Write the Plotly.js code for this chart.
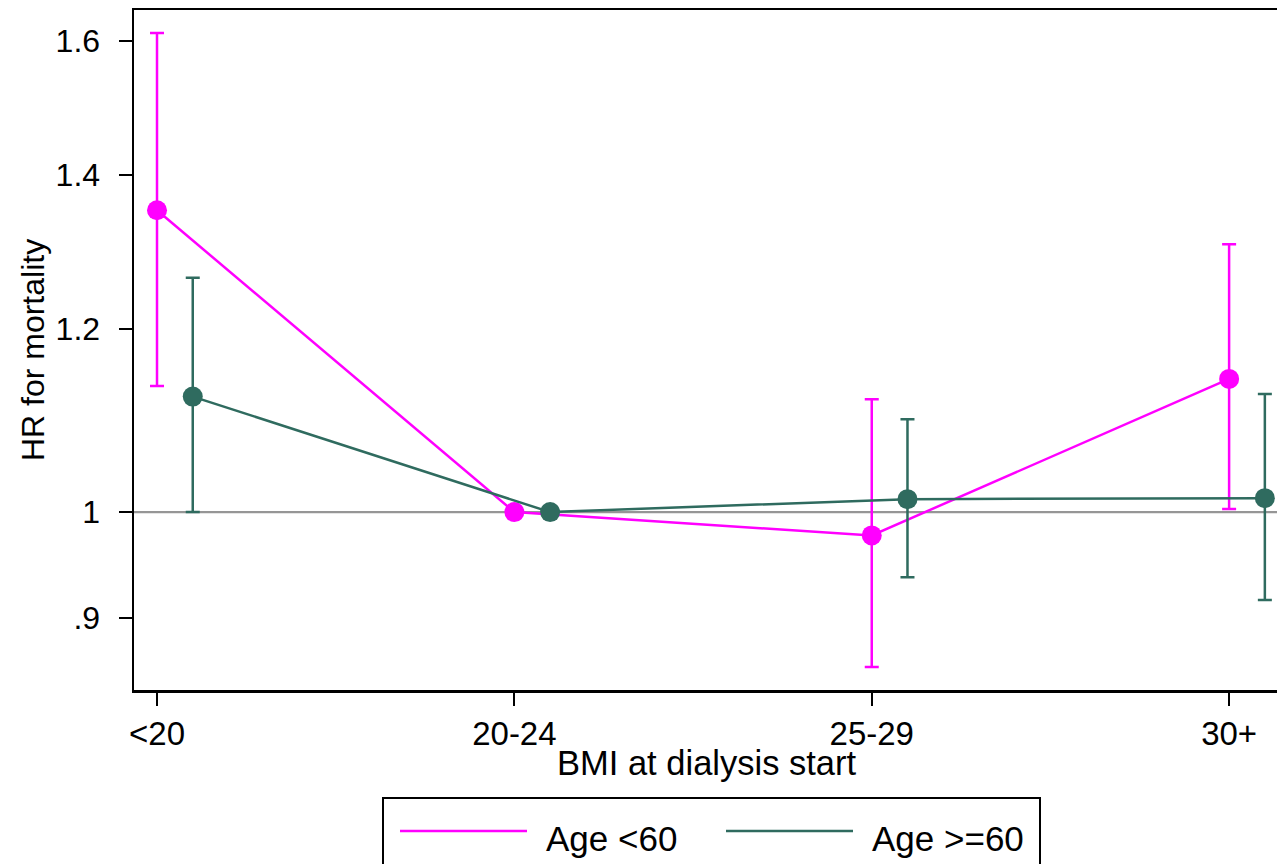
<!DOCTYPE html>
<html>
<head>
<meta charset="utf-8">
<script src="https://cdn.plot.ly/plotly-3.0.1.min.js"></script>
<style>
  html, body { margin: 0; padding: 0; background: #ffffff; overflow: hidden; }
  #chart { width: 1277px; height: 864px; }
</style>
</head>
<body>
<div id="chart"></div>
<script>
// ---- data ----
const categories = ['<20', '20-24', '25-29', '30+'];
const catPos = [1, 2, 3, 4];
const groupOffset = 0.1;

const hrYoung   = [1.351, 1.000, 0.977, 1.142];
const ciYoungLo = [1.134, 1.000, 0.857, 1.003];
const ciYoungHi = [1.612, 1.000, 1.119, 1.306];

const hrOld   = [1.122, 1.000, 1.013, 1.014];
const ciOldLo = [1.000, 1.000, 0.937, 0.916];
const ciOldHi = [1.263, 1.000, 1.097, 1.125];

const yTickVals = [0.9, 1, 1.2, 1.4, 1.6];
const yTickText = ['.9', '1', '1.2', '1.4', '1.6'];

const seriesNames = ['Age <60', 'Age >=60'];
const colYoung = '#ff00ff';
const colOld = '#2f6b5f';

// ---- layout geometry ----
const W = 1277, H = 864;
const mL = 134, mR = 0, mT = 10, mB = 174;
const plotW = W - mL - mR, plotH = H - mT - mB;
const px2x = p => (p - mL) / plotW;
const py2y = p => (H - mB - p) / plotH;

const FONT = '"Liberation Sans", Arial, Helvetica, sans-serif';

function errTrace(x, y, lo, hi, name, color) {
  return {
    type: 'scatter', mode: 'lines+markers', name: name,
    x: x, y: y,
    line: { color: color, width: 2.5 },
    marker: { color: color, size: 20, symbol: 'circle' },
    error_y: {
      type: 'data', symmetric: false,
      array: hi.map((h, i) => h - y[i]),
      arrayminus: lo.map((l, i) => y[i] - l),
      color: color, thickness: 2.5, width: 7
    },
    showlegend: false, hoverinfo: 'x+y'
  };
}

const traces = [
  errTrace(catPos, hrYoung, ciYoungLo, ciYoungHi, seriesNames[0], colYoung),
  errTrace(catPos.map(v => v + groupOffset), hrOld, ciOldLo, ciOldHi, seriesNames[1], colOld)
];

// legend (drawn in paper space to match the wide line samples)
const legTop = 798, legLeft = 383, legRight = 1040;
const legLineY = 831, legTextY = 838;
const shapes = [
  { type: 'line', xref: 'paper', yref: 'y', x0: 0, x1: 1, y0: 1, y1: 1,
    line: { color: '#969696', width: 2.2 }, layer: 'below' },
  { type: 'rect', xref: 'paper', yref: 'paper',
    x0: px2x(legLeft), x1: px2x(legRight), y0: py2y(legTop), y1: py2y(880),
    line: { color: '#000000', width: 2 }, fillcolor: 'rgba(0,0,0,0)' },
  { type: 'line', xref: 'paper', yref: 'paper',
    x0: px2x(400), x1: px2x(527), y0: py2y(legLineY), y1: py2y(legLineY),
    line: { color: colYoung, width: 2.5 } },
  { type: 'line', xref: 'paper', yref: 'paper',
    x0: px2x(726), x1: px2x(853), y0: py2y(legLineY), y1: py2y(legLineY),
    line: { color: colOld, width: 2.5 } }
];

const annotations = [
  { xref: 'paper', yref: 'paper', x: px2x(544), y: py2y(legTextY),
    xanchor: 'left', yanchor: 'middle', showarrow: false, text: seriesNames[0],
    font: { family: FONT, size: 35, color: '#000' } },
  { xref: 'paper', yref: 'paper', x: px2x(870), y: py2y(legTextY),
    xanchor: 'left', yanchor: 'middle', showarrow: false, text: seriesNames[1],
    font: { family: FONT, size: 35, color: '#000' } },
  { xref: 'paper', yref: 'paper', x: px2x(706), y: py2y(763),
    xanchor: 'center', yanchor: 'middle', showarrow: false, text: 'BMI at dialysis start',
    font: { family: FONT, size: 34.5, color: '#000' } }
];

const layout = {
  width: W, height: H,
  margin: { l: mL, r: mR, t: mT, b: mB, pad: 0 },
  paper_bgcolor: '#ffffff', plot_bgcolor: '#ffffff',
  font: { family: FONT, size: 32, color: '#000' },
  showlegend: false,
  xaxis: {
    range: [0.9356, 4.134],
    tickmode: 'array', tickvals: catPos, ticktext: categories,
    showgrid: false, zeroline: false,
    showline: true, linecolor: '#000', linewidth: 2.5, mirror: true,
    ticks: 'outside', ticklen: 13, tickwidth: 2, tickcolor: '#000',
    ticklabelstandoff: 0,
    tickfont: { family: FONT, size: 33, color: '#000' },
    automargin: false
  },
  yaxis: {
    type: 'log',
    range: [Math.log10(0.8375), Math.log10(1.6495)],
    tickmode: 'array', tickvals: yTickVals, ticktext: yTickText,
    showgrid: false, zeroline: false,
    showline: true, linecolor: '#000', linewidth: 2.5,
    ticks: 'outside', ticklen: 13, tickwidth: 2, tickcolor: '#000',
    ticklabelstandoff: 12,
    tickfont: { family: FONT, size: 32, color: '#000' },
    title: { text: 'HR for mortality', standoff: 2,
             font: { family: FONT, size: 32, color: '#000' } },
    automargin: false
  },
  shapes: shapes,
  annotations: annotations
};

Plotly.newPlot('chart', traces, layout, { displayModeBar: false, staticPlot: true });
</script>
</body>
</html>
